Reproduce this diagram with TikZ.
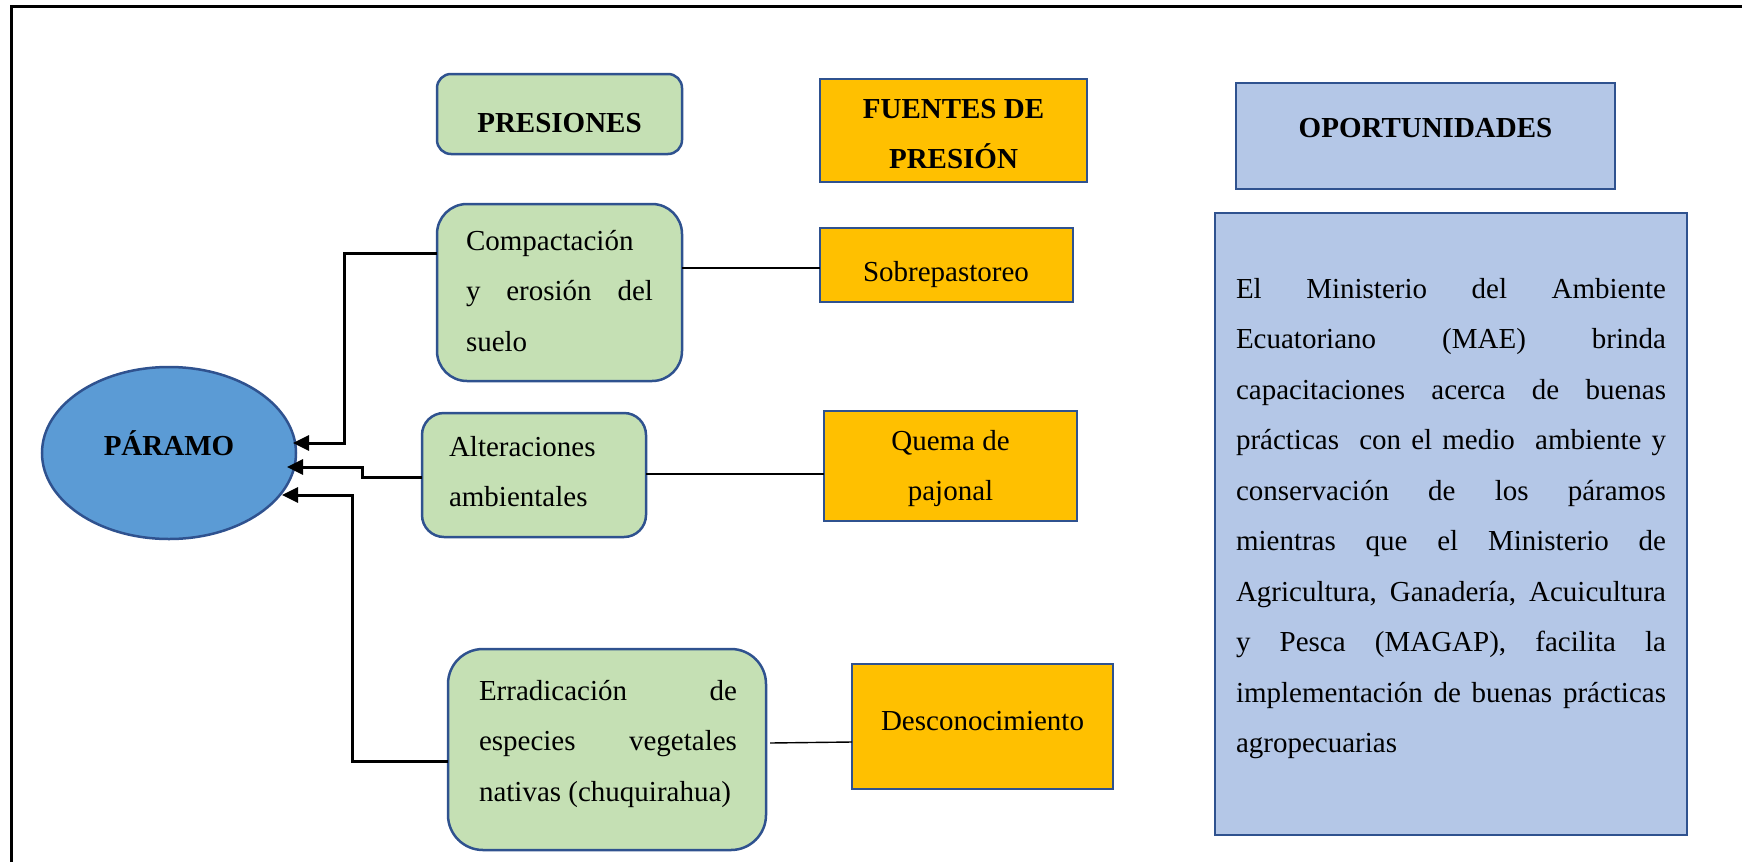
\documentclass[tikz,border=0pt]{standalone}
\usepackage{fontspec}
\setmainfont{Liberation Serif}
\usetikzlibrary{arrows.meta,shapes.geometric}
\definecolor{gfill}{HTML}{C5E0B4}
\definecolor{ofill}{HTML}{FFC000}
\definecolor{bfill}{HTML}{B4C7E7}
\definecolor{efill}{HTML}{5B9BD5}
\definecolor{edgec}{HTML}{2F528F}
\newcommand\jline[1]{\makebox[\linewidth][s]{#1}}
\begin{document}
\begin{tikzpicture}[x=1pt,y=-1pt,
  box/.style={draw=edgec, line width=2.5pt, inner sep=0pt, outer sep=0pt, anchor=north west},
  gbox/.style={box, fill=gfill},
  obox/.style={box, fill=ofill},
  bbox/.style={box, fill=bfill},
  txt/.style={inner sep=0pt, outer sep=0pt, font=\fontsize{29}{50.5}\selectfont},
  head/.style={inner sep=0pt, outer sep=0pt, font=\fontsize{29}{50.5}\selectfont\bfseries},
  arr/.style={line width=3pt, -{Triangle[length=16pt,width=15pt]}},
  link/.style={line width=1.4pt},
  frameline/.style={line width=3pt}
]
\useasboundingbox (0,0) rectangle (1742,862);
\draw[frameline] (11,862) -- (11,6) -- (1742,6);

% ellipse
\node[draw=edgec, fill=efill, line width=2.5pt, ellipse, inner sep=0pt, outer sep=0pt,
      minimum width=254pt, minimum height=172pt] (par) at (169,453) {};
\node[head, anchor=base] (parT) at (169,455) {PÁRAMO};

% headers
\node[gbox, rounded corners=14pt, minimum width=245pt, minimum height=80pt] (pres) at (437,74) {};
\node[head, anchor=base] (presT) at (559.5,132) {PRESIONES};
\node[obox, minimum width=267pt, minimum height=103pt] (fue) at (820,79) {};
\node[head, anchor=base] (fueT) at (953.5,118) {\parbox[t]{300pt}{\centering FUENTES DE\\PRESIÓN}};
\node[bbox, minimum width=379pt, minimum height=106pt] (opo) at (1236,83) {};
\node[head, anchor=base] (opoT) at (1425.5,137) {OPORTUNIDADES};

% presiones
\node[gbox, rounded corners=30pt, minimum width=245pt, minimum height=177pt] (comp) at (437,204) {};
\node[txt, anchor=base west] (compT) at (466,250) {\parbox[t]{187pt}{Compactación\\\jline{y erosión del}\\suelo}};
\node[gbox, rounded corners=22pt, minimum width=224pt, minimum height=124pt] (alt) at (422,413) {};
\node[txt, anchor=base west] (altT) at (449,456) {\parbox[t]{190pt}{Alteraciones\\ambientales}};
\node[gbox, rounded corners=35pt, minimum width=318pt, minimum height=201pt] (err) at (448,649) {};
\node[txt, anchor=base west] (errT) at (479,700) {\parbox[t]{258pt}{\jline{Erradicación de}\\\jline{especies vegetales}\\nativas (chuquirahua)}};

% fuentes
\node[obox, minimum width=253pt, minimum height=74pt] (sob) at (820,228) {};
\node[txt, anchor=base] (sobT) at (946,281) {Sobrepastoreo};
\node[obox, minimum width=253pt, minimum height=110pt] (que) at (824,411) {};
\node[txt, anchor=base] (queT) at (950.5,450) {\parbox[t]{240pt}{\centering Quema de\\pajonal}};
\node[obox, minimum width=261pt, minimum height=125pt] (des) at (852,664) {};
\node[txt, anchor=base] (desT) at (982.5,730) {Desconocimiento};

% oportunidades
\node[bbox, minimum width=472pt, minimum height=622pt] (big) at (1215,213) {};
\node[txt, anchor=base west] (bigT) at (1236,298) {\parbox[t]{430pt}{%
\jline{El Ministerio del Ambiente}\\
\jline{Ecuatoriano (MAE) brinda}\\
\jline{capacitaciones acerca de buenas}\\
\jline{prácticas\ \ con el medio\ \ ambiente y}\\
\jline{conservación de los páramos}\\
\jline{mientras que el Ministerio de}\\
\jline{Agricultura, Ganadería, Acuicultura}\\
\jline{y Pesca (MAGAP), facilita la}\\
\jline{implementación de buenas prácticas}\\
agropecuarias}};

% links
\draw[link] ([yshift=24.5pt]comp.east) -- ([yshift=-3pt]sob.west);
\draw[link] ([yshift=1pt]alt.east) -- ([yshift=-8pt]que.west);
\draw[link] ([xshift=4pt,yshift=6.5pt]err.east) -- ([yshift=-15.5pt]des.west);

% arrows
\draw[arr] ([yshift=39.5pt]comp.west) -- ++(-93,0) |- ([xshift=-3pt,yshift=10pt]par.east);
\draw[arr] ([yshift=-2pt]alt.west) -- ++(-60,0) |- ([xshift=-9pt,yshift=-14pt]par.east);
\draw[arr] ([yshift=-11.5pt]err.west) -- ++(-96,0) |- ([xshift=-14pt,yshift=-42pt]par.east);
\end{tikzpicture}
\end{document}
